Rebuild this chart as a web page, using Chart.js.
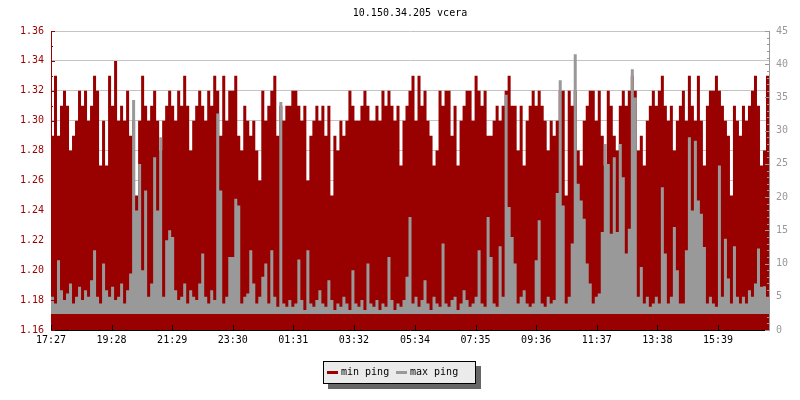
<!DOCTYPE html>
<html>
<head>
<meta charset="utf-8">
<script src="https://cdn.jsdelivr.net/npm/chart.js@4"></script>
<style>
  body { margin: 0; background: #fff; }
  #wrap { position: relative; width: 800px; height: 400px; font-family: 'DejaVu Sans Mono', monospace; }
  #title { position: absolute; top: 7px; left: 51px; width: 718px; text-align: center; font-size: 10px; color: #000; }
  #legend { position: absolute; left: 323px; top: 361px; width: 151px; height: 21px; border: 1px solid #000;
            background: #ebebeb; box-shadow: 5px 5px 0 #666; font-size: 10px; }
  #legend .sw { position: absolute; top: 9px; width: 11px; height: 3px; }
  #legend .lb { position: absolute; top: 4px; }
</style>
</head>
<body>
<div id="wrap">
  <canvas id="myChart" width="800" height="400"></canvas>
  <div id="title">10.150.34.205 vcera</div>
  <div id="legend">
    <span class="sw" style="left:3px;background:#990000"></span><span class="lb" style="left:17px">min ping</span>
    <span class="sw" style="left:72px;background:#999999"></span><span class="lb" style="left:86px">max ping</span>
  </div>
</div>
<script>
/* dados do grafico */
const startTime = '17:27';
const sampleMinutes = 6;
const tickLabels = ['17:27', '19:28', '21:29', '23:30', '01:31', '03:32', '05:34', '07:35', '09:36', '11:37', '13:38', '15:39'];

// min ping (ms), eixo esquerdo
const minPing = [
  1.29, 1.33, 1.29, 1.31, 1.32, 1.31, 1.28, 1.29, 1.30, 1.32,
  1.31, 1.32, 1.30, 1.31, 1.33, 1.32, 1.27, 1.30, 1.27, 1.33,
  1.31, 1.34, 1.30, 1.31, 1.30, 1.32, 1.29, 1.30, 1.25, 1.30,
  1.33, 1.31, 1.30, 1.31, 1.32, 1.30, 1.28, 1.30, 1.31, 1.32,
  1.31, 1.30, 1.32, 1.31, 1.33, 1.31, 1.28, 1.30, 1.31, 1.32,
  1.31, 1.30, 1.32, 1.31, 1.33, 1.32, 1.29, 1.33, 1.30, 1.32,
  1.32, 1.33, 1.29, 1.28, 1.31, 1.30, 1.29, 1.30, 1.28, 1.26,
  1.32, 1.30, 1.31, 1.32, 1.33, 1.29, 1.31, 1.30, 1.31, 1.31,
  1.32, 1.32, 1.31, 1.30, 1.31, 1.26, 1.29, 1.30, 1.31, 1.30,
  1.31, 1.29, 1.31, 1.25, 1.29, 1.28, 1.30, 1.29, 1.30, 1.32,
  1.31, 1.30, 1.30, 1.31, 1.32, 1.31, 1.30, 1.30, 1.31, 1.30,
  1.32, 1.31, 1.32, 1.31, 1.30, 1.31, 1.27, 1.30, 1.31, 1.32,
  1.33, 1.30, 1.33, 1.31, 1.32, 1.30, 1.29, 1.27, 1.28, 1.32,
  1.31, 1.32, 1.32, 1.29, 1.31, 1.27, 1.30, 1.31, 1.32, 1.32,
  1.30, 1.33, 1.32, 1.31, 1.32, 1.29, 1.29, 1.30, 1.31, 1.30,
  1.31, 1.32, 1.33, 1.31, 1.31, 1.28, 1.31, 1.27, 1.30, 1.31,
  1.32, 1.31, 1.32, 1.31, 1.30, 1.28, 1.30, 1.29, 1.30, 1.32,
  1.32, 1.25, 1.32, 1.31, 1.32, 1.28, 1.27, 1.30, 1.31, 1.32,
  1.32, 1.30, 1.32, 1.29, 1.27, 1.32, 1.31, 1.29, 1.28, 1.31,
  1.32, 1.31, 1.32, 1.33, 1.32, 1.28, 1.29, 1.27, 1.30, 1.31,
  1.32, 1.31, 1.32, 1.33, 1.31, 1.30, 1.31, 1.28, 1.30, 1.31,
  1.32, 1.30, 1.33, 1.31, 1.30, 1.33, 1.30, 1.27, 1.31, 1.32,
  1.32, 1.33, 1.32, 1.31, 1.30, 1.29, 1.25, 1.31, 1.30, 1.29,
  1.31, 1.30, 1.31, 1.32, 1.33, 1.31, 1.27, 1.28, 1.33, 1.29
];

// max ping (ms), eixo direito
const maxPing = [
  5, 4, 10.5, 6, 4.5, 5.5, 7, 4, 5, 6.5,
  4.5, 6, 5, 7.5, 12, 5, 4, 10, 6, 5,
  6.5, 4.5, 5, 7, 4, 6, 8.5, 34.6, 18, 25,
  9, 21, 5, 7, 26, 18, 29, 5, 13.5, 15,
  14, 6, 4.5, 5, 7, 4, 6, 5, 4.5, 7,
  11.5, 5, 4, 6, 4.5, 32.6, 21, 4, 5, 11,
  11, 19.75, 18.75, 4, 5, 5.5, 12, 7, 4, 5,
  8, 10, 4, 12, 5, 3.5, 34.3, 4, 3.5, 4.5,
  3.5, 4, 10.6, 4.5, 3, 12, 4, 3.5, 4.5, 6,
  4, 3.5, 7.5, 4.5, 3, 4, 3.5, 5, 4, 3,
  9, 4, 3.5, 4.5, 3, 10, 4, 3.5, 4.5, 3,
  4, 3.5, 11, 4.5, 3, 4, 3.5, 4.5, 8, 17,
  4, 5, 3.5, 4.5, 7.5, 4, 3, 5, 4, 3.5,
  13, 4, 3.5, 4.5, 5, 3, 4, 6, 4.5, 3.5,
  4, 5, 12, 4, 3.5, 17, 11, 4, 3.5, 12.6,
  5, 35.4, 18.5, 14, 10, 4, 5, 6, 4, 3.5,
  4, 10.5, 16.5, 4, 3.5, 5, 4, 4.5, 20.6, 37.6,
  18.75, 4, 5, 13, 41.5, 22, 19.5, 16.75, 10, 7,
  4, 5, 5.5, 14.75, 28, 25, 14.5, 26, 14.75, 28,
  23, 11.5, 15.25, 39.25, 35, 5, 9.5, 4, 5, 3.5,
  4, 5, 4, 21.5, 11.5, 4, 5, 15.5, 9, 4,
  4, 12, 29, 18, 28.5, 19.5, 17.5, 12.5, 4, 5,
  4, 3.5, 24.75, 5, 13.75, 7.75, 4, 12.6, 5, 4,
  5, 4, 6, 5, 7, 12.25, 6.5, 6.6, 5, 6
];

function minutosDesde(label) {
  const [h, m] = label.split(':').map(Number);
  const [h0, m0] = startTime.split(':').map(Number);
  let d = h * 60 + m - (h0 * 60 + m0);
  if (d < 0) d += 1440;
  return d;
}

const tickMinutes = tickLabels.map(minutosDesde);
const lastMinute = (minPing.length - 1) * sampleMinutes;

Chart.defaults.font.family = "'DejaVu Sans Mono', monospace";
Chart.defaults.font.size = 10;

// ticks para dentro do grafico
const ticksInternos = {
  id: 'ticksInternos',
  afterDatasetsDraw(chart) {
    const { ctx, chartArea: a, scales } = chart;
    ctx.save();
    ctx.lineWidth = 1;
    ctx.strokeStyle = '#990000';
    ctx.beginPath();
    for (let k = 0; k <= 20; k++) {
      const y = Math.round(scales.y.getPixelForValue(1.16 + k * 0.01)) + 0.5;
      const len = k % 2 === 0 ? 4 : 2;
      ctx.moveTo(a.left, y);
      ctx.lineTo(a.left + len, y);
    }
    ctx.stroke();
    ctx.strokeStyle = '#999999';
    ctx.beginPath();
    for (let k = 0; k <= 45; k++) {
      const y = Math.round(scales.y2.getPixelForValue(k)) + 0.5;
      const len = k % 5 === 0 ? 4 : 2;
      ctx.moveTo(a.right, y);
      ctx.lineTo(a.right - len, y);
    }
    ctx.stroke();
    ctx.strokeStyle = '#000';
    ctx.beginPath();
    tickMinutes.forEach(m => {
      const x = Math.round(scales.x.getPixelForValue(m)) + 0.5;
      ctx.moveTo(x, a.bottom);
      ctx.lineTo(x, a.bottom - 5);
    });
    ctx.stroke();
    ctx.restore();
  }
};

const config = {
  type: 'line',
  data: {
    datasets: [
      {
        label: 'min ping',
        data: minPing.map((v, i) => ({ x: i * sampleMinutes, y: v })),
        yAxisID: 'y',
        stepped: true,
        borderWidth: 0,
        borderColor: '#990000',
        backgroundColor: '#990000',
        fill: 'start',
        pointRadius: 0,
        order: 2
      },
      {
        label: 'max ping',
        data: maxPing.map((v, i) => ({ x: i * sampleMinutes, y: v })),
        yAxisID: 'y2',
        stepped: true,
        borderWidth: 0,
        borderColor: '#999999',
        backgroundColor: '#999999',
        fill: { value: 2.4 },
        pointRadius: 0,
        order: 1
      }
    ]
  },
  options: {
    responsive: false,
    animation: false,
    devicePixelRatio: 1,
    layout: { padding: { top: 31, bottom: 50, left: 0, right: 0 } },
    plugins: {
      legend: { display: false },
      tooltip: { enabled: false }
    },
    scales: {
      x: {
        type: 'linear',
        min: 0,
        max: lastMinute,
        afterBuildTicks: s => { s.ticks = tickMinutes.map(v => ({ value: v })); },
        afterFit: s => { s.height = 20; },
        grid: { display: false, drawTicks: false },
        border: { display: true, color: '#000' },
        ticks: {
          autoSkip: false,
          maxRotation: 0,
          padding: 4,
          color: '#000',
          callback: (v, i) => tickLabels[i]
        }
      },
      y: {
        position: 'left',
        min: 1.16,
        max: 1.36,
        afterFit: s => { s.width = 51; },
        grid: { color: '#c4c4c4', drawTicks: false },
        border: { display: true, color: '#990000' },
        ticks: {
          stepSize: 0.02,
          padding: 7,
          color: '#990000',
          callback: v => v.toFixed(2)
        }
      },
      y2: {
        position: 'right',
        min: 0,
        max: 45,
        afterFit: s => { s.width = 31; },
        grid: { display: false, drawTicks: false },
        border: { display: true, color: '#999999' },
        ticks: {
          stepSize: 5,
          padding: 7,
          color: '#999999'
        }
      }
    }
  },
  plugins: [ticksInternos]
};

const myChart = new Chart(
  document.getElementById('myChart'),
  config
);
</script>
</body>
</html>
